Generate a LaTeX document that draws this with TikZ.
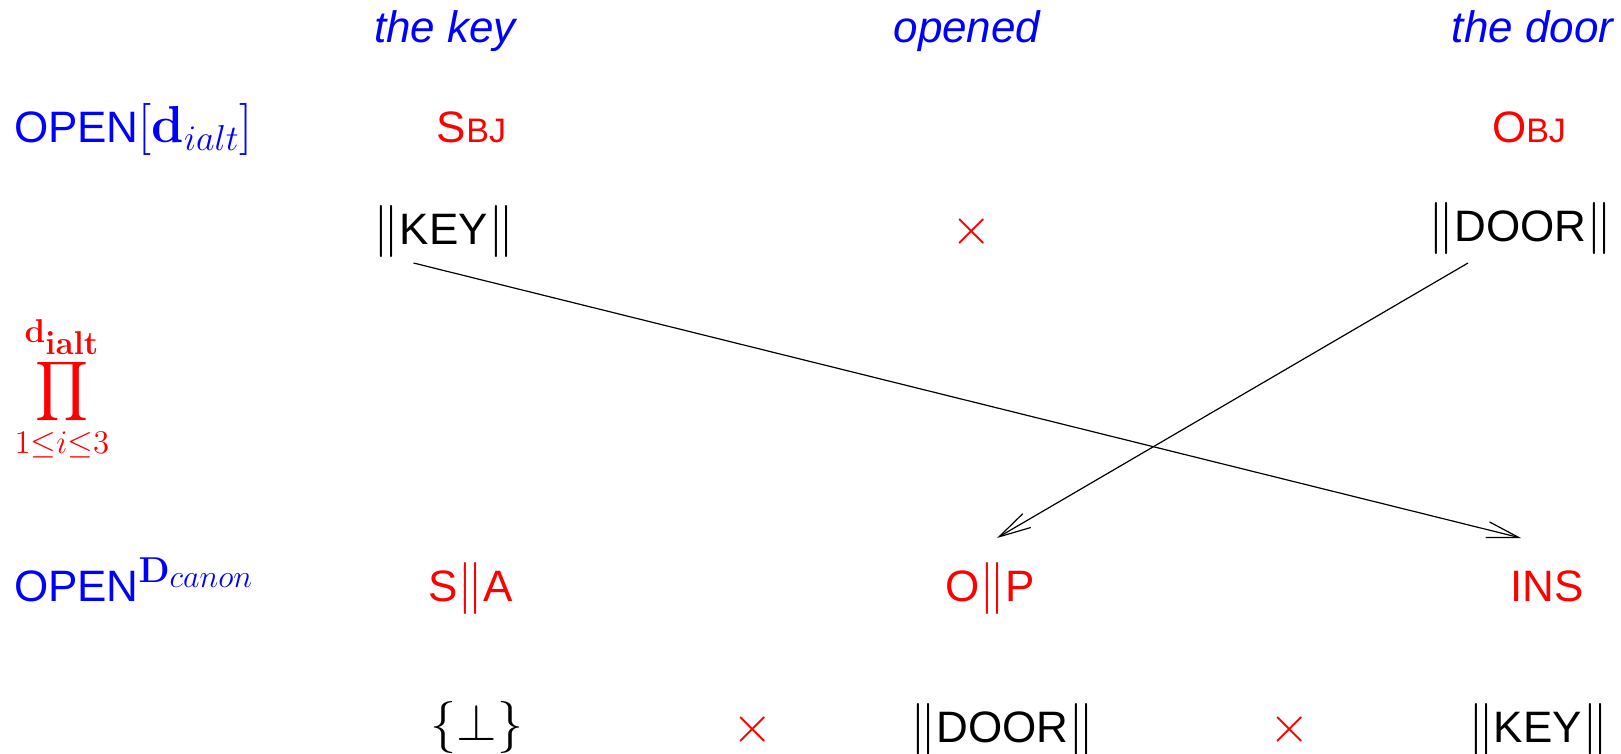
\RequirePackage{fix-cm}
\documentclass[tikz,border=0pt]{standalone}
\usepackage{exscale}
\usepackage[no-math]{fontspec}
\setmainfont{Liberation Sans}
\usetikzlibrary{arrows.meta}
% text at 22pt with slightly larger Computer Modern math
\DeclareMathSizes{22}{26}{18}{16}
\DeclareMathSizes{20}{20.4}{16.5}{16.5}
\newcommand{\smallcapsfake}[2]{#1{\fontsize{17}{20}\selectfont #2}}
\begin{document}
\begin{tikzpicture}[x=0.5pt,y=-0.5pt,
  every node/.style={inner sep=0pt, outer sep=0pt, font=\fontsize{22}{26}\selectfont},
  gloss/.style={text=blue, font=\fontsize{22}{26}\selectfont\itshape, anchor=base},
  role/.style={text=red, anchor=base},
  form/.style={text=black, anchor=base},
  pred/.style={text=blue, anchor=base west},
  link/.style={-{Straight Barb[length=16pt,width=8pt]}, line width=0.6pt}]
\useasboundingbox (0,0) rectangle (1621,754);

% sentence words
\node[gloss] (wkey)   at (445,43)    {the key};
\node[gloss] (wopen)  at (967,43)    {opened};
\node[gloss] (wdoor)  at (1532.5,43) {the door};

% alternation frame
\node[pred] (palt) at (14,143) {OPEN$[\mathbf{d}_{ialt}]$};
\node[role] (sbj)  at (471.5,143) {\smallcapsfake{S}{BJ}};
\node[role] (obj)  at (1529,143)  {\smallcapsfake{O}{BJ}};
\node[form] (fkey)  at (444,245)    {$\|$KEY$\|$};
\node[role] (xa)    at (972,245)    {$\times$};
\node[form] (fdoor) at (1520.5,242) {$\|$DOOR$\|$};

% product operator
\node[text=red, font=\fontsize{20}{24}\selectfont] (prodop) at (62,389)
  {$\displaystyle\prod_{1\le i\le 3}^{\mathbf{d}_{\mathbf{ialt}}}$};

% canonical frame
\node[pred] (pcan) at (14,601) {OPEN$^{\mathbf{D}_{canon}}$};
\node[role] (sa)  at (470.5,601) {S$\|$A};
\node[role] (op)  at (990.5,601) {O$\|$P};
\node[role] (ins) at (1547,601)  {INS};
\node[form] (fbot)   at (477,740)    {$\{\bot\}$};
\node[role] (xb)     at (753,742)    {$\times$};
\node[form] (fdoor2) at (1002.5,742) {$\|$DOOR$\|$};
\node[role] (xc)     at (1290,742)   {$\times$};
\node[form] (fkey2)  at (1538,742)   {$\|$KEY$\|$};

% role mappings
\draw[link] ([shift={(-30.5,18)}]fkey.base) -- ([shift={(-26,-63)}]ins.base);
\draw[link] ([shift={(-52.5,21)}]fdoor.base) -- ([shift={(6.5,-63)}]op.base);
\end{tikzpicture}
\end{document}
